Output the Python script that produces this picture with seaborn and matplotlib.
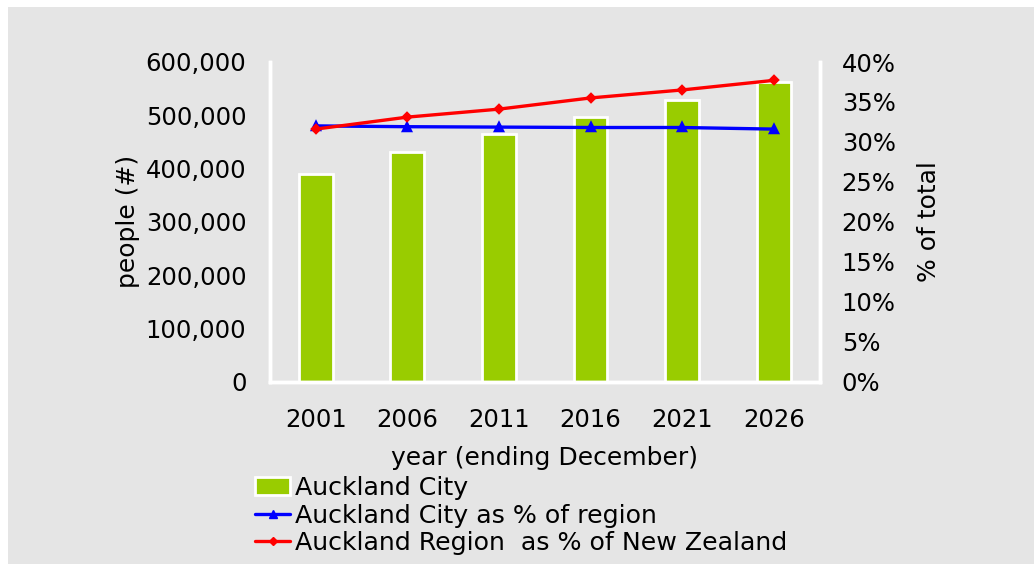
import numpy as np
import pandas as pd
import seaborn as sns
import matplotlib.pyplot as plt
from matplotlib.patches import Rectangle, Patch
from matplotlib.lines import Line2D
from matplotlib.ticker import FuncFormatter, PercentFormatter

# ---------------------------------------------------------------
# Dados
# ---------------------------------------------------------------
anos = ["2001", "2006", "2011", "2016", "2021", "2026"]
pop_city = [390000, 431000, 464000, 497000, 528500, 562500]
city_pct_region = [0.320, 0.319, 0.3185, 0.318, 0.318, 0.316]
region_pct_nz = [0.316, 0.331, 0.341, 0.355, 0.365, 0.377]

df = pd.DataFrame({
    "ano": anos,
    "pop": pop_city,
    "city_pct": city_pct_region,
    "region_pct": region_pct_nz,
})

verde = "#99CC00"
fundo = "#E5E5E5"
fs = 17.5

sns.set_style("white")
plt.rcParams["font.family"] = ["DejaVu Sans"]
plt.rcParams["text.color"] = "black"
plt.rcParams["axes.labelcolor"] = "black"
plt.rcParams["xtick.color"] = "black"
plt.rcParams["ytick.color"] = "black"

fig = plt.figure(figsize=(10.34, 5.64), dpi=100, facecolor="white")
fig.patches.append(Rectangle((8 / 1034, 0), 1, (564 - 7) / 564,
                             transform=fig.transFigure, facecolor=fundo,
                             edgecolor="none", zorder=-10))

ax = fig.add_axes([270 / 1034, 1 - 381.5 / 564, (819.5 - 270) / 1034, (381.5 - 62) / 564])
ax.set_facecolor(fundo)

# Barras
sns.barplot(data=df, x="ano", y="pop", color=verde, width=0.37,
            edgecolor="white", linewidth=2, saturation=1, ax=ax)

ax.set_ylim(0, 600000)
ax.set_yticks(np.arange(0, 600001, 100000))
ax.yaxis.set_major_formatter(FuncFormatter(lambda v, p: f"{int(v):,}"))
ax.set_xlim(-0.5, 5.5)
ax.tick_params(axis="both", length=0, labelsize=fs)
ax.tick_params(axis="y", pad=17)
ax.tick_params(axis="x", pad=19)
ax.set_ylabel("people (#)", fontsize=fs + 0.5, labelpad=4)
ax.set_xlabel("year (ending December)", fontsize=fs + 0.5, labelpad=10)

for lado in ["left", "bottom", "right"]:
    ax.spines[lado].set_color("white")
    ax.spines[lado].set_linewidth(2.5)
ax.spines["top"].set_visible(False)

# Linhas (% no eixo secundário)
ax2 = ax.twinx()
sns.pointplot(data=df, x="ano", y="city_pct", color="blue", marker="^",
              markersize=5.5, linewidth=2.4, errorbar=None, ax=ax2)
sns.pointplot(data=df, x="ano", y="region_pct", color="red", marker="D",
              markersize=4.2, linewidth=2.4, errorbar=None, ax=ax2)

ax2.set_ylim(0, 0.40)
ax2.set_yticks(np.arange(0, 0.401, 0.05))
ax2.yaxis.set_major_formatter(PercentFormatter(1, decimals=0))
ax2.set_xlim(-0.5, 5.5)
ax2.tick_params(axis="y", length=0, labelsize=fs, pad=16)
ax2.set_ylabel("% of total", fontsize=fs + 0.5, labelpad=15)
ax2.set_xlabel("")
for lado in ["left", "bottom", "right"]:
    ax2.spines[lado].set_color("white")
    ax2.spines[lado].set_linewidth(2.5)
ax2.spines["top"].set_visible(False)

# Legenda
handles = [
    Patch(facecolor=verde, edgecolor="white", linewidth=2),
    Line2D([], [], color="blue", marker="^", markersize=5.5, linewidth=2.4),
    Line2D([], [], color="red", marker="D", markersize=4.2, linewidth=2.4),
]
labels = ["Auckland City", "Auckland City as % of region",
          "Auckland Region  as % of New Zealand"]
fig.legend(handles, labels, loc="upper left", bbox_to_anchor=(255 / 1034, 1 - 476 / 564),
           frameon=False, fontsize=fs + 0.7, handlelength=1.4, handletextpad=0.2,
           labelspacing=0.14, borderpad=0, borderaxespad=0)

fig.savefig("out.png", dpi=100, facecolor="white")
